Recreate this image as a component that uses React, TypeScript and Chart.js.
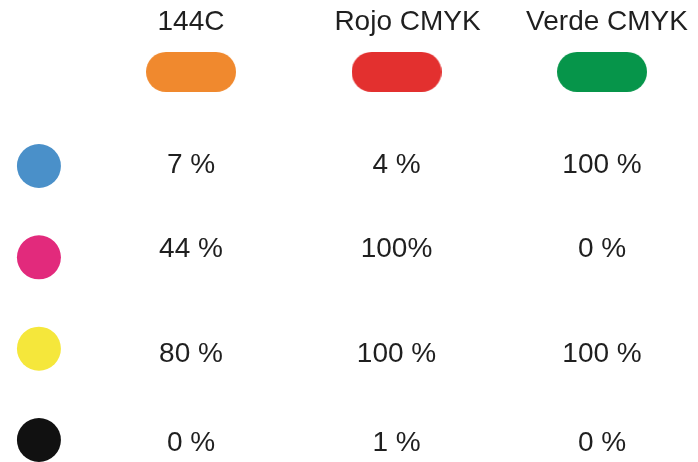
import React, { useEffect, useRef } from "react";
import { Chart, registerables } from "chart.js";

Chart.register(...registerables);

// ---- data ----
const columns = ["144C", "Rojo CMYK", "Verde CMYK"];
const columnColors = ["#F0892E", "#E3302F", "#06954A"];
const inks = ["Cian", "Magenta", "Amarillo", "Negro"];
const inkColors = ["#4A90C9", "#E22A7C", "#F5E73B", "#111111"];
const values144C = ["7 %", "44 %", "80 %", "0 %"];
const valuesRojo = ["4 %", "100%", "100 %", "1 %"];
const valuesVerde = ["100 %", "0 %", "100 %", "0 %"];

const columnValues = [values144C, valuesRojo, valuesVerde];

// ---- layout constants ----
const INK_COL_X = 0.26;
const PILL_ROW_Y = -1.03;
const HEADER_ROW_Y = -1.57;
const HEADER_DX = [0, 11, 5]; // px nudges of header text
const ROW_TEXT_DY = [-1, -8, 6, 3]; // px nudges of value text

function makePill(color: string) {
  const c = document.createElement("canvas");
  c.width = 90;
  c.height = 40;
  const ctx = c.getContext("2d")!;
  ctx.fillStyle = color;
  ctx.beginPath();
  (ctx as any).roundRect(0, 0, 90, 40, 20);
  ctx.fill();
  return c;
}

const textPlugin = {
  id: "tableText",
  afterDatasetsDraw(chart: any) {
    const { ctx, scales } = chart;
    const xs = scales.x;
    const ys = scales.y;
    ctx.save();
    ctx.fillStyle = "#1f1f1f";
    ctx.textAlign = "center";
    ctx.textBaseline = "middle";
    ctx.font = '28px "Liberation Sans", Arial, sans-serif';
    columns.forEach((name, i) => {
      ctx.fillText(name, xs.getPixelForValue(i + 1) + HEADER_DX[i], ys.getPixelForValue(HEADER_ROW_Y));
    });
    columnValues.forEach((vals, ci) => {
      vals.forEach((v, ri) => {
        ctx.fillText(v, xs.getPixelForValue(ci + 1), ys.getPixelForValue(ri) + ROW_TEXT_DY[ri]);
      });
    });
    ctx.restore();
  },
};

export default function App() {
  const ref = useRef<HTMLCanvasElement | null>(null);
  useEffect(() => {
    document.body.style.margin = "0";
    document.body.style.background = "#ffffff";
    const pills = columnColors.map(makePill);
    const chart = new Chart(ref.current!, {
      type: "scatter",
      data: {
        datasets: [
          {
            label: "Tintas",
            data: inks.map((_, i) => ({ x: INK_COL_X, y: i })),
            pointBackgroundColor: inkColors,
            pointBorderWidth: 0,
            pointRadius: 22,
            clip: false as any,
          },
          {
            label: "Colores",
            data: columns.map((_, i) => ({ x: i + 1, y: PILL_ROW_Y })),
            pointStyle: pills as any,
            pointRadius: 20,
            clip: false as any,
          },
        ],
      },
      plugins: [textPlugin],
      options: {
        animation: false,
        responsive: false,
        layout: { padding: 0, autoPadding: false },
        plugins: { legend: { display: false }, tooltip: { enabled: false } },
        events: [],
        scales: {
          x: { type: "linear", display: false, min: 0.0706, max: 3.467 },
          y: { type: "linear", display: false, reverse: true, min: -1.8176, max: 3.241 },
        },
      },
    });
    return () => chart.destroy();
  }, []);
  return (
    <div style={{ width: 698, height: 462, background: "#fff" }}>
      <canvas ref={ref} width={698} height={462} style={{ display: "block" }} />
    </div>
  );
}
